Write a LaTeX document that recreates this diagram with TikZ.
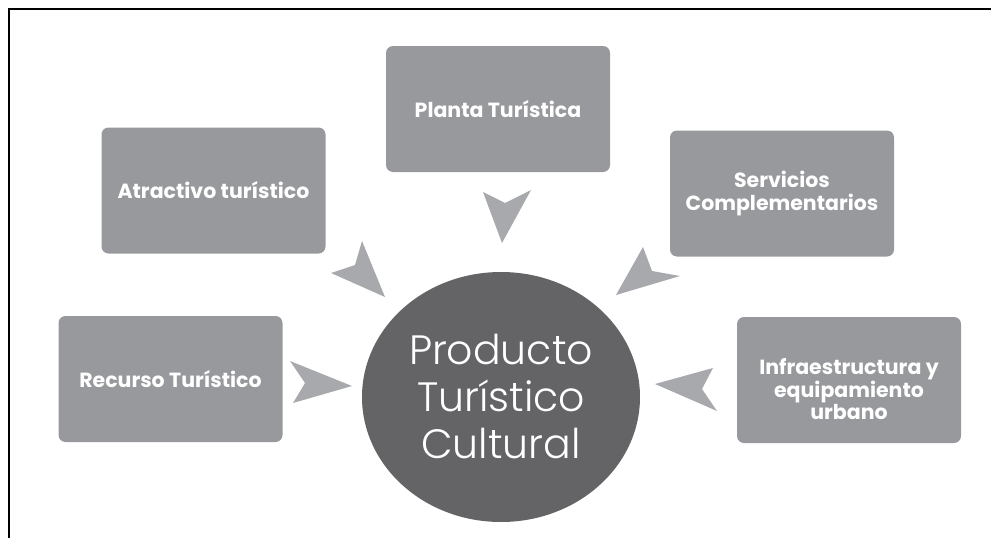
\documentclass[tikz,border=0pt]{standalone}
\usepackage{fontspec}
\setmainfont{Poppins}
\newfontfamily\lightfont{Poppins}[UprightFont={* Light}]
\usetikzlibrary{shapes.geometric}
\definecolor{boxgray}{HTML}{98999D}
\definecolor{chevgray}{HTML}{A8A9AD}
\definecolor{circgray}{HTML}{646466}
\tikzset{
  boxtext/.style={text=white, font=\fontsize{20.5}{22}\selectfont\bfseries, align=center, inner sep=0pt},
  box/.style={boxtext, fill=boxgray, rounded corners=7pt, minimum width=224pt, minimum height=126pt},
  chev/.style={fill=chevgray},
  frameline/.style={draw=black, line width=2.6pt}
}
\begin{document}
\begin{tikzpicture}[x=1pt,y=-1pt]
\useasboundingbox (0,0) rectangle (991,538);
% frame
\coordinate (fbl) at (9,540);
\coordinate (ftl) at (9,9);
\coordinate (ftr) at (993,9);
\draw[frameline] (fbl) -- (ftl) -- (ftr);
% boxes
\node[box] (planta) at (498,109) {Planta Turística};
\node[box] (atractivo) at (213.5,190.5) {Atractivo turístico};
\node[box] (servicios) at (782,193.5) {Servicios\\[1pt]Complementarios};
\node[box] (recurso) at (170.5,379) {Recurso Turístico};
\node[box] (infra) at (849,380) {};
\node[boxtext, font=\fontsize{20.5}{20.5}\selectfont\bfseries] (infratext) at ([yshift=-9pt]infra.center)
  {Infraestructura y\\equipamiento\\urbano};
% centre
\node[ellipse, fill=circgray, minimum width=278pt, minimum height=250pt, inner sep=0pt,
      text=white, align=center, font=\lightfont\fontsize{41}{47}\selectfont] (producto) at (501,397)
      {Producto\\Turístico\\Cultural};
% chevrons
\fill[chev] (483,192) -- (505,203) -- (531,190) -- (502,243) -- cycle;
\fill[chev] (290,361) -- (305,383) -- (293,403) -- (352,386) -- cycle;
\fill[chev] (713,368) -- (702,389) -- (717,411) -- (655,384) -- cycle;
\fill[chev] (362,241) -- (355,265) -- (331,273) -- (385,297) -- cycle;
\fill[chev] (643,247) -- (652,271) -- (680,276) -- (616,295) -- cycle;
\end{tikzpicture}
\end{document}
